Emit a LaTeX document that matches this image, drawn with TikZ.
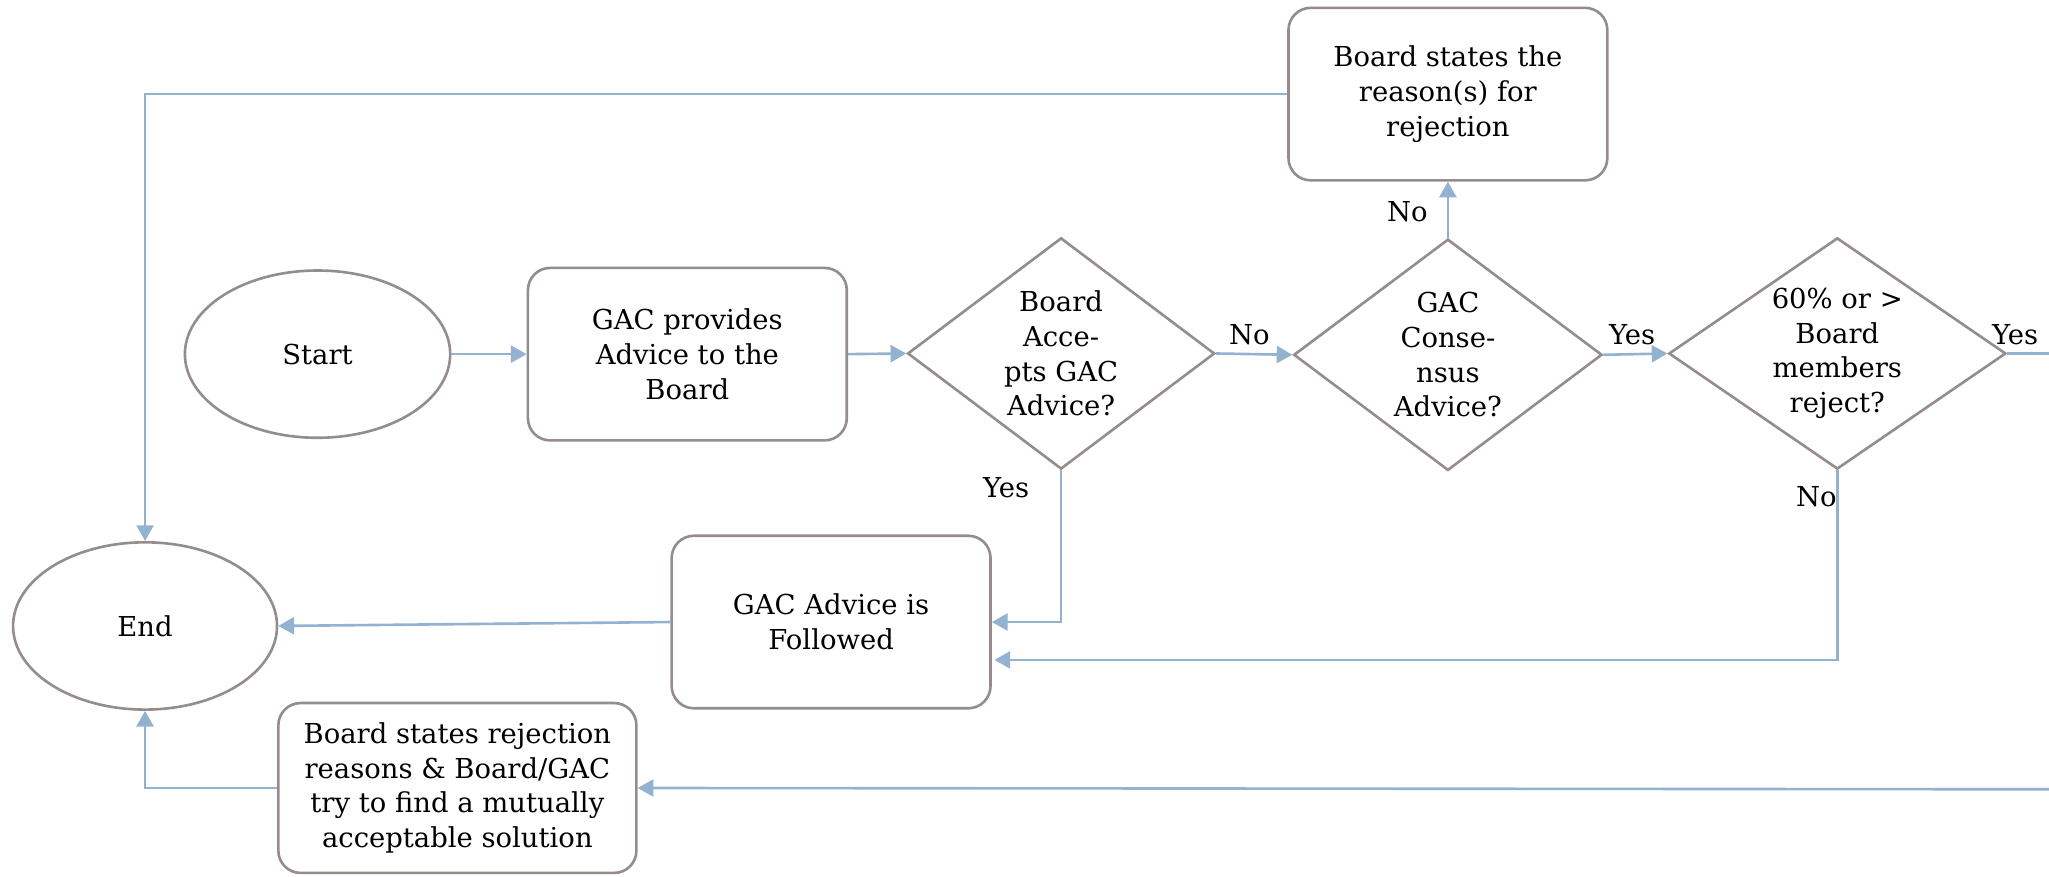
\documentclass[tikz,border=0pt]{standalone}
\usepackage{fontspec}
\setmainfont{DejaVu Serif}
\usetikzlibrary{shapes.geometric,arrows.meta}
\definecolor{lineblue}{RGB}{146,178,208}
\definecolor{bordergray}{RGB}{149,140,140}
\begin{document}
\begin{tikzpicture}[x=1pt,y=-1pt,
  every node/.style={font=\fontsize{21}{26.5}\selectfont, text=black},
  box/.style={draw=bordergray, line width=2pt, rounded corners=17pt, align=center, inner sep=0pt},
  oval/.style={draw=bordergray, line width=2pt, ellipse, inner sep=0pt},
  decision/.style={draw=bordergray, line width=2pt, diamond, inner sep=0pt},
  dtext/.style={align=center, inner sep=0pt},
  conn/.style={draw=lineblue, line width=2pt, -{Triangle[length=12pt,width=13pt]}},
  plain/.style={draw=lineblue, line width=2pt},
  lbl/.style={inner sep=0pt}
]
\useasboundingbox (0,0) rectangle (1568,670.4);

\node[oval, minimum width=203pt, minimum height=128pt] (start) at (243,271) {Start};
\node[box, minimum width=244pt, minimum height=132pt] (provide) at (526,271) {GAC provides\\Advice to the\\Board};
\node[decision, minimum width=235pt, minimum height=177pt,
      label={[dtext]center:{Board\\Acce-\\pts GAC\\Advice?}}] (d1) at (812,270.5) {};
\node[decision, minimum width=236pt, minimum height=177pt,
      label={[dtext]center:{GAC\\Conse-\\nsus\\Advice?}}] (d2) at (1108,271.5) {};
\node[decision, minimum width=258pt, minimum height=177pt,
      label={[dtext]center:{60\% or >\\Board\\members\\reject?}}] (d3) at (1406,270.5) {};
\node[box, minimum width=244pt, minimum height=132pt] (reason) at (1108,72) {Board states the\\reason(s) for\\rejection};
\node[oval, minimum width=202pt, minimum height=128pt] (end) at (111,479) {End};
\node[box, minimum width=244pt, minimum height=132pt] (follow) at (636,476) {GAC Advice is\\Followed};
\node[box, minimum width=274pt, minimum height=130pt] (solve) at (350,603) {Board states rejection\\reasons \& Board/GAC\\try to find a mutually\\acceptable solution};

\coordinate (rout) at (1568,270.5);
\coordinate (rin) at (1568,604);

\draw[conn] (start.east) -- (provide.west);
\draw[conn] (provide.east) -- (d1.west);
\draw[conn] (d1.east) -- (d2.west);
\draw[conn] (d2.east) -- (d3.west);
\draw[plain] (d3.east) -- (rout);
\draw[conn] (d2.north) -- (reason.south);
\draw[conn] (reason.west) -| (end.north);
\draw[conn] (d1.south) |- (follow.east);
\draw[conn] (d3.south) |- ([yshift=-29pt,xshift=2pt]follow.east);
\draw[conn] (follow.west) -- (end.east);
\draw[conn] (rin) -- (solve.east);
\draw[conn] (solve.west) -| (end.south);

\node[lbl] (lno1) at (956,256) {No};
\node[lbl] (lyes1) at (1249,256) {Yes};
\node[lbl] (lyes2) at (1542,256) {Yes};
\node[lbl] (lno2) at (1077,162) {No};
\node[lbl] (lyes3) at (770,373) {Yes};
\node[lbl] (lno3) at (1390,380) {No};
\end{tikzpicture}
\end{document}
